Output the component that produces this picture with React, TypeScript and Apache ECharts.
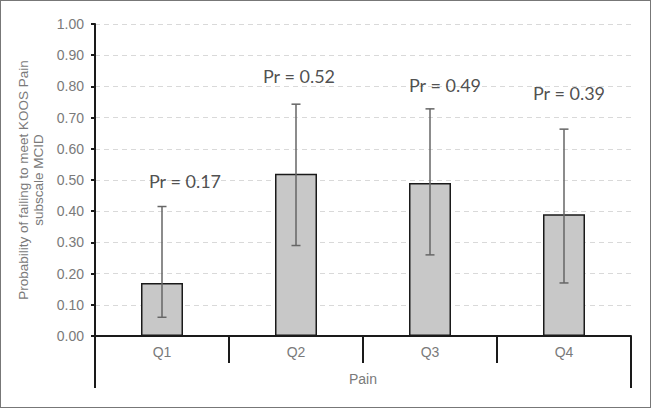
import React, { useEffect, useRef } from "react";
import * as echarts from "echarts";

const categories = ["Q1", "Q2", "Q3", "Q4"];
const groupLabel = ["Pain"];
const probabilities = [0.17, 0.52, 0.49, 0.39];
const lowerCI = [0.06, 0.29, 0.26, 0.17];
const upperCI = [0.415, 0.743, 0.728, 0.663];
const yTitle = "Probability of failing to meet KOOS Pain\nsubscale MCID";

// label placement (style), relative to the upper end of each error bar
const labelOffsets = [
  [23, -26],
  [3, -28],
  [15, -24],
  [5, -36],
];

export default function App() {
  const ref = useRef<HTMLDivElement>(null);
  useEffect(() => {
    if (!ref.current) return;
    const chart = echarts.init(ref.current, null, { renderer: "svg" });
    const axisText = { color: "#7a7a7a", fontFamily: "Liberation Sans", fontSize: 14 };
    chart.setOption({
      animation: false,
      backgroundColor: "#ffffff",
      grid: { left: 94, right: 19, top: 23, bottom: 71, containLabel: false },
      xAxis: [
        {
          type: "category",
          data: categories,
          position: "bottom",
          axisLine: { show: true, lineStyle: { color: "#1a1a1a", width: 2 } },
          axisTick: { show: true, length: 27, lineStyle: { color: "#1a1a1a", width: 2 } },
          axisLabel: { ...axisText, margin: 9 },
          splitLine: { show: false },
        },
        {
          type: "category",
          data: groupLabel,
          position: "bottom",
          offset: 27,
          axisLine: { show: false },
          axisTick: { show: true, length: 25, lineStyle: { color: "#1a1a1a", width: 2 } },
          axisLabel: { ...axisText, margin: 9 },
          splitLine: { show: false },
        },
      ],
      yAxis: {
        type: "value",
        min: 0,
        max: 1,
        interval: 0.1,
        name: yTitle,
        nameLocation: "middle",
        nameGap: 49,
        nameRotate: 90,
        nameTextStyle: { ...axisText, fontSize: 13.5, lineHeight: 15, align: "center" },
        axisLine: { show: true, lineStyle: { color: "#1a1a1a", width: 2 } },
        axisTick: { show: true, length: 4, lineStyle: { color: "#1a1a1a", width: 2 } },
        axisLabel: { ...axisText, margin: 11, formatter: (v: number) => v.toFixed(2) },
        splitLine: { show: true, lineStyle: { color: "#d9d9d9", type: [5, 4], width: 1 } },
      },
      series: [
        {
          type: "bar",
          data: probabilities,
          barWidth: 42,
          itemStyle: { color: "#c8c8c8", borderColor: "#1a1a1a", borderWidth: 1.5 },
          z: 2,
        },
        {
          type: "custom",
          data: categories.map((_, i) => [i, lowerCI[i], upperCI[i]]),
          encode: { x: 0, y: [1, 2] },
          z: 3,
          renderItem: (params: any, api: any) => {
            const x = api.value(0);
            const lo = api.coord([x, api.value(1)]);
            const hi = api.coord([x, api.value(2)]);
            const cap = 4.5;
            const style = { stroke: "#666666", lineWidth: 1.5 };
            return {
              type: "group",
              children: [
                { type: "line", shape: { x1: lo[0], y1: lo[1], x2: hi[0], y2: hi[1] }, style },
                { type: "line", shape: { x1: hi[0] - cap, y1: hi[1], x2: hi[0] + cap, y2: hi[1] }, style },
                { type: "line", shape: { x1: lo[0] - cap, y1: lo[1], x2: lo[0] + cap, y2: lo[1] }, style },
              ],
            };
          },
        },
        {
          type: "scatter",
          symbolSize: 0,
          z: 4,
          data: categories.map((c, i) => ({
            value: [c, upperCI[i]],
            label: {
              show: true,
              position: "inside",
              offset: labelOffsets[i],
              formatter: "Pr = " + probabilities[i].toFixed(2),
              color: "#222222",
              fontFamily: "Lato",
              fontSize: 18,
            },
          })),
        },
      ],
    });
    return () => chart.dispose();
  }, []);
  return (
    <div
      style={{
        position: "fixed",
        left: 0,
        top: 0,
        width: 651,
        height: 408,
        boxSizing: "border-box",
        border: "1px solid #777777",
        background: "#fff",
      }}
    >
      <div ref={ref} style={{ width: 649, height: 406 }} />
    </div>
  );
}
